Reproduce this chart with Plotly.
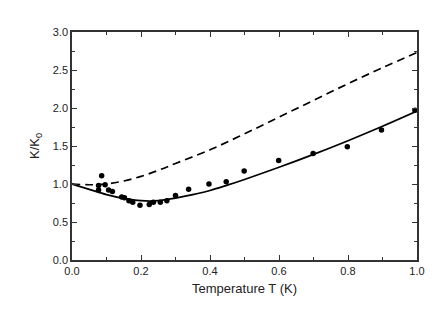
import plotly.graph_objects as go

# Measured data points
T_data = [0.077, 0.077, 0.086, 0.096, 0.106, 0.117, 0.144, 0.152, 0.165, 0.176,
          0.197, 0.224, 0.236, 0.256, 0.275, 0.300, 0.338, 0.397, 0.447, 0.499,
          0.599, 0.699, 0.798, 0.897, 0.994]
K_data = [0.98, 0.92, 1.11, 0.99, 0.92, 0.90, 0.83, 0.82, 0.78, 0.76,
          0.72, 0.73, 0.76, 0.76, 0.78, 0.85, 0.93, 1.00, 1.03, 1.17,
          1.31, 1.40, 1.49, 1.71, 1.97]

# Solid theory curve
T_solid = [0.0, 0.05, 0.10, 0.15, 0.20, 0.25, 0.30, 0.35, 0.40, 0.45, 0.50,
           0.60, 0.70, 0.80, 0.90, 1.00]
K_solid = [1.00, 0.93, 0.86, 0.81, 0.78, 0.78, 0.815, 0.86, 0.915, 0.985, 1.06,
           1.22, 1.39, 1.57, 1.76, 1.96]

# Dashed theory curve
T_dash = [0.0, 0.05, 0.10, 0.15, 0.20, 0.25, 0.30, 0.40, 0.50, 0.60, 0.70,
          0.80, 0.90, 1.00]
K_dash = [1.00, 0.99, 1.00, 1.04, 1.10, 1.18, 1.27, 1.45, 1.66, 1.88, 2.10,
          2.32, 2.53, 2.73]

x_ticks = [0.0, 0.2, 0.4, 0.6, 0.8, 1.0]
y_ticks = [0.0, 0.5, 1.0, 1.5, 2.0, 2.5, 3.0]

fig = go.Figure()
fig.add_trace(go.Scatter(x=T_dash, y=K_dash, mode="lines",
                         line=dict(color="black", width=1.7, dash="8px,5px"),
                         line_shape="spline", showlegend=False))
fig.add_trace(go.Scatter(x=T_solid, y=K_solid, mode="lines",
                         line=dict(color="black", width=1.7),
                         line_shape="spline", showlegend=False))
fig.add_trace(go.Scatter(x=T_data, y=K_data, mode="markers",
                         marker=dict(color="black", size=5.5),
                         showlegend=False))

axis_common = dict(showgrid=False, zeroline=False, showline=True,
                   linecolor="#333", linewidth=1.5, mirror="ticks",
                   ticks="inside", ticklen=5, tickwidth=1.3, tickcolor="#333",
                   tickfont=dict(family="Liberation Sans, Arial", size=11, color="#222"))

fig.update_xaxes(range=[0, 1], tickvals=x_ticks,
                 ticktext=[f"{v:.1f}" for v in x_ticks],
                 minor=dict(ticks="inside", ticklen=3, dtick=0.1, tick0=0,
                            tickcolor="#333", tickwidth=1.2),
                 title=dict(text="Temperature T (K)", standoff=8,
                            font=dict(family="Liberation Sans, Arial", size=13, color="#222")),
                 **axis_common)
fig.update_yaxes(range=[0, 3], tickvals=y_ticks,
                 ticktext=[f"{v:.1f}" for v in y_ticks],
                 minor=dict(ticks="inside", ticklen=3, dtick=0.25, tick0=0,
                            tickcolor="#333", tickwidth=1.2),
                 title=dict(text="K/K<sub>0</sub>", standoff=10,
                            font=dict(family="Liberation Sans, Arial", size=13, color="#222")),
                 **axis_common)

fig.update_layout(width=436, height=310,
                  margin=dict(l=64, r=27, t=24, b=58),
                  plot_bgcolor="white", paper_bgcolor="white")

fig.write_html("out.html")
